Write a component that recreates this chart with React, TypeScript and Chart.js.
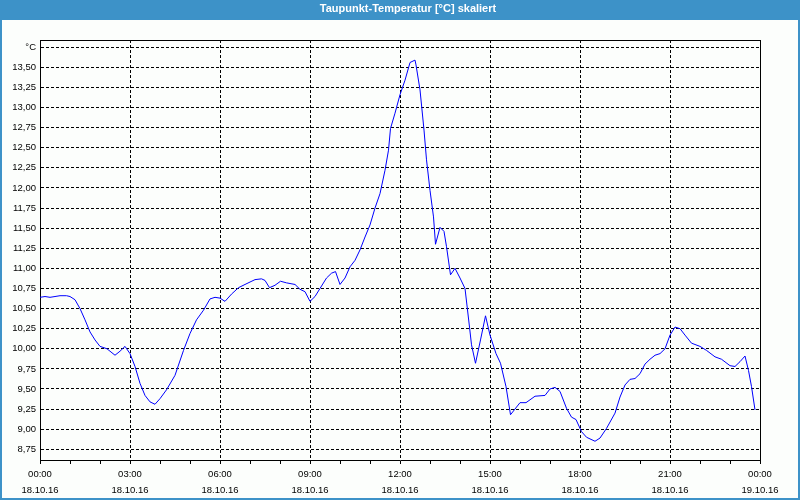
import React, { useEffect, useRef } from 'react';
import { Chart, registerables } from 'chart.js';

Chart.register(...registerables);

const TITLE = 'Taupunkt-Temperatur [°C] skaliert';

// minutes since 18.10.16 00:00
const MINUTES = [
  0, 10, 20, 30, 40, 53, 60, 70, 80, 90,
  100, 110, 120, 134, 150, 160, 170, 180, 190, 200,
  210, 220, 230, 240, 253, 270, 287, 300, 313, 327,
  340, 350, 360, 370, 383, 397, 410, 420, 430, 443,
  450, 459, 470, 481, 493, 510, 520, 530, 540, 550,
  560, 573, 583, 591, 600, 610, 620, 630, 640, 650,
  660, 670, 680, 690, 697, 701, 710, 720, 730, 740,
  750, 752, 760, 768, 773, 780, 787, 791, 800, 808,
  813, 821, 830, 840, 850, 859, 863, 871, 881, 891,
  900, 912, 921, 932, 941, 960, 972, 990, 1010, 1020,
  1030, 1040, 1053, 1063, 1072, 1083, 1093, 1110, 1120, 1133,
  1150, 1160, 1170, 1180, 1190, 1200, 1210, 1220, 1230, 1240,
  1250, 1260, 1270, 1280, 1290, 1303, 1320, 1333, 1350, 1363,
  1380, 1390, 1400, 1410, 1417, 1423, 1430,
];

const DEW_POINT = [
  10.64, 10.65, 10.64, 10.65, 10.66, 10.66, 10.65, 10.61, 10.5, 10.36,
  10.21, 10.11, 10.03, 10.0, 9.92, 9.97, 10.03, 9.94, 9.78, 9.57,
  9.42, 9.34, 9.31, 9.38, 9.49, 9.67, 9.98, 10.19, 10.36, 10.48,
  10.62, 10.64, 10.63, 10.59, 10.68, 10.76, 10.8, 10.83, 10.86, 10.87,
  10.85, 10.76, 10.79, 10.84, 10.82, 10.8, 10.74, 10.71, 10.59, 10.65,
  10.75, 10.88, 10.94, 10.96, 10.8, 10.88, 11.02, 11.1, 11.23, 11.39,
  11.54, 11.75, 11.93, 12.22, 12.47, 12.74, 12.93, 13.16, 13.34, 13.56,
  13.59, 13.53, 13.22, 12.72, 12.35, 11.97, 11.64, 11.3, 11.51, 11.46,
  11.27, 10.92, 11.0, 10.88, 10.75, 10.27, 10.05, 9.82, 10.11, 10.41,
  10.17, 9.94, 9.82, 9.53, 9.18, 9.33, 9.33, 9.41, 9.42, 9.5,
  9.52, 9.47, 9.26, 9.15, 9.12, 8.97, 8.9, 8.85, 8.89, 9.01,
  9.2, 9.4, 9.55, 9.62, 9.63, 9.69, 9.81, 9.87, 9.92, 9.94,
  10.0, 10.17, 10.27, 10.25, 10.17, 10.07, 10.03, 9.98, 9.9, 9.87,
  9.79, 9.78, 9.84, 9.91, 9.73, 9.53, 9.24,
];

const Y_TICK_VALUES = [
  8.75, 9.0, 9.25, 9.5, 9.75, 10.0, 10.25, 10.5, 10.75, 11.0, 11.25,
  11.5, 11.75, 12.0, 12.25, 12.5, 12.75, 13.0, 13.25, 13.5, 13.75,
];
const Y_TICK_LABELS = [
  '8,75', '9,00', '9,25', '9,50', '9,75', '10,00', '10,25', '10,50', '10,75', '11,00', '11,25',
  '11,50', '11,75', '12,00', '12,25', '12,50', '12,75', '13,00', '13,25', '13,50', '°C',
];
const Y_MIN = 8.617;
const Y_MAX = 13.84;

const X_MIN = 0;
const X_MAX = 1440;
const X_MINOR_TICKS = [
  0, 60, 120, 180, 240, 300, 360, 420, 480, 540, 600, 660, 720,
  780, 840, 900, 960, 1020, 1080, 1140, 1200, 1260, 1320, 1380, 1440,
];
const X_LABEL_TICKS = [0, 180, 360, 540, 720, 900, 1080, 1260, 1440];
const X_TIME_LABELS = ['00:00', '03:00', '06:00', '09:00', '12:00', '15:00', '18:00', '21:00', '00:00'];
const X_DATE_LABELS = ['18.10.16', '18.10.16', '18.10.16', '18.10.16', '18.10.16', '18.10.16', '18.10.16', '18.10.16', '19.10.16'];

const FONT = 'Liberation Sans, Arial, sans-serif';

const framePlugin = {
  id: 'frame',
  afterLayout(chart: any) {
    // the reference's title is centred slightly right of the canvas centre
    const tb = chart.titleBlock;
    if (tb) tb.left = 16;
  },
  beforeDraw(chart: any) {
    const { ctx, width, height } = chart;
    ctx.save();
    ctx.fillStyle = '#fcfefc';
    ctx.fillRect(0, 0, width, height);
    ctx.fillStyle = '#3d92c8';
    ctx.fillRect(0, 0, width, 20);
    ctx.fillRect(0, 0, 2, height);
    ctx.fillRect(width - 2, 0, 2, height);
    ctx.fillRect(0, height - 2, width, 2);
    ctx.restore();
  },
  afterDraw(chart: any) {
    const { ctx, chartArea } = chart;
    ctx.save();
    ctx.strokeStyle = '#000';
    ctx.lineWidth = 1;
    ctx.beginPath();
    ctx.moveTo(Math.round(chartArea.left) + 0.5, Math.round(chartArea.top) + 0.5);
    ctx.lineTo(Math.round(chartArea.right) + 0.5, Math.round(chartArea.top) + 0.5);
    ctx.lineTo(Math.round(chartArea.right) + 0.5, Math.round(chartArea.bottom) + 0.5);
    ctx.stroke();
    ctx.restore();
  },
};

export default function App() {
  const canvasRef = useRef<HTMLCanvasElement | null>(null);

  useEffect(() => {
    const canvas = canvasRef.current;
    if (!canvas) return;
    const points = MINUTES.map((m, i) => ({ x: m, y: DEW_POINT[i] }));
    const chart = new Chart(canvas, {
      type: 'line',
      data: {
        datasets: [
          {
            label: 'Taupunkt',
            data: points,
            borderColor: '#0000ff',
            borderWidth: 1,
            pointRadius: 0,
            tension: 0,
            fill: false,
          },
        ],
      },
      options: {
        animation: false,
        responsive: false,
        devicePixelRatio: 1,
        layout: { padding: { left: 0, right: 0, top: 0, bottom: 0 } },
        plugins: {
          legend: { display: false },
          tooltip: { enabled: false },
          title: {
            display: true,
            text: TITLE,
            color: '#ffffff',
            font: { family: FONT, size: 11, weight: 'bold', lineHeight: '14px' },
            padding: { top: 2, bottom: 24 },
          },
        },
        scales: {
          x: {
            type: 'linear',
            min: X_MIN,
            max: X_MAX,
            afterBuildTicks: (scale: any) => {
              scale.ticks = X_MINOR_TICKS.map((v) => ({ value: v }));
            },
            afterFit: (scale: any) => {
              scale.height = 40;
            },
            grid: {
              color: (ctx: any) =>
                ctx.tick && X_LABEL_TICKS.indexOf(ctx.tick.value) >= 0 ? '#000000' : 'rgba(0,0,0,0)',
              tickColor: '#000000',
              tickLength: 4,
              lineWidth: 1,
              tickBorderDash: [],
            },
            border: { display: true, color: '#000000', width: 1, dash: [3, 2] },
            ticks: {
              autoSkip: false,
              maxRotation: 0,
              minRotation: 0,
              padding: 2,
              color: '#000000',
              font: { family: FONT, size: 9.5, lineHeight: '16px' },
              callback: (value: any) => {
                const i = X_LABEL_TICKS.indexOf(Number(value));
                return i >= 0 ? [X_TIME_LABELS[i], X_DATE_LABELS[i]] : '';
              },
            },
          },
          y: {
            type: 'linear',
            position: 'left',
            min: Y_MIN,
            max: Y_MAX,
            afterBuildTicks: (scale: any) => {
              scale.ticks = Y_TICK_VALUES.map((v) => ({ value: v }));
            },
            afterFit: (scale: any) => {
              scale.width = 40;
            },
            grid: { color: '#000000', drawTicks: false, lineWidth: 1 },
            border: { display: true, color: '#000000', width: 1, dash: [3, 2] },
            ticks: {
              padding: 4,
              color: '#000000',
              font: { family: FONT, size: 9.5 },
              callback: (value: any) => {
                const i = Y_TICK_VALUES.indexOf(Number(value));
                return i >= 0 ? Y_TICK_LABELS[i] : '';
              },
            },
          },
          yR: {
            type: 'linear',
            position: 'right',
            display: true,
            grid: { display: false },
            border: { display: false },
            ticks: { display: false },
            afterFit: (scale: any) => {
              scale.width = 40;
            },
          },
        },
      } as any,
      plugins: [framePlugin],
    });
    return () => chart.destroy();
  }, []);

  return (
    <div style={{ position: 'absolute', left: 0, top: 0, width: 800, height: 500 }}>
      <canvas ref={canvasRef} width={800} height={500} style={{ display: 'block', width: 800, height: 500 }} />
    </div>
  );
}
